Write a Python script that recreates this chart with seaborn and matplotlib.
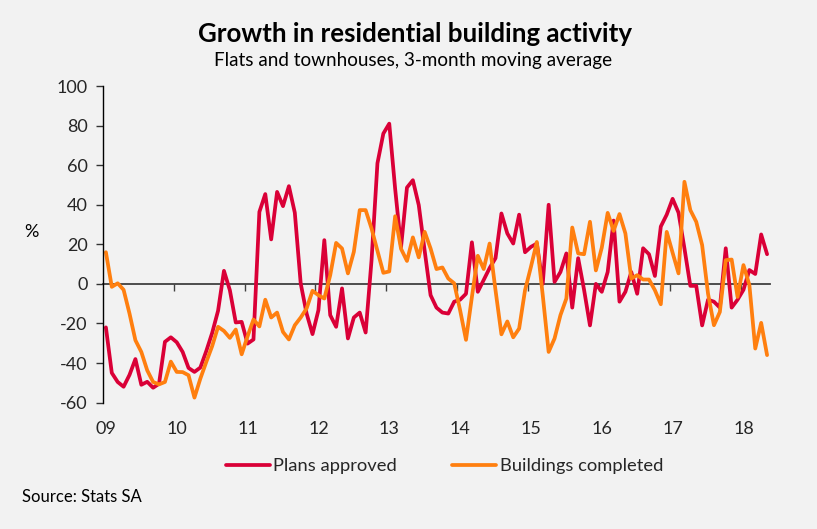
import matplotlib
matplotlib.use("Agg")
import matplotlib.pyplot as plt
import numpy as np
import pandas as pd
import seaborn as sns

# ---- data (monthly, Jan 2009 - May 2018, % growth, 3-month moving average) ----
year_labels = ["09", "10", "11", "12", "13", "14", "15", "16", "17", "18"]

plans_approved = [
    -22, -45, -49.6, -52, -46, -38, -51, -49.5, -52.5, -50.5, -29.3, -27,
    -29.5, -34.4, -42.5, -44.5, -42.3, -34, -24.8, -13.6, 6.6, -3.2, -19.5, -19.2,
    -30.2, -28.1, 36.4, 45.4, 22.5, 46.5, 39.3, 49.4, 36, 0.2, -15, -25.4,
    -13.3, 22.1, -15.8, -21.7, -2.3, -27.6, -17, -14.5, -24.6, 12, 61, 76,
    81, 48, 18.7, 48.7, 52.4, 39.8, 16.7, -5.7, -12, -14.5, -15, -9,
    -8, -5, 21, -4, 2, 8, 13, 35.6, 25.5, 20.4, 35, 16,
    18.7, 20.4, 0, 40, 1, 6, 15.4, -12, 13, -3, -21, 0,
    -4, 6, 32, -9, -4, 6, -5, 18, 15, 4, 29, 35,
    43, 36, 18, -1, -1, -21, -8, -9, -12, 18, -12, -8,
    -3, 7, 5, 25, 15,
]

buildings_completed = [
    16, -1.5, 0.3, -3, -15, -28.5, -34.4, -43.7, -49.6, -50.8, -49.6, -39.3,
    -44.5, -44.6, -46.2, -57.5, -47.9, -39.5, -31.5, -21.7, -23.8, -27.3, -23.1, -35.6,
    -26.5, -18, -21.5, -8, -17, -14.5, -24.3, -28.1, -20.9, -17, -12.4, -3.5,
    -5.7, -7.4, 4.4, 20.7, 17.9, 5.3, 16.2, 37.3, 37.3, 28, 16.7, 5.6,
    6.3, 34.2, 17.7, 11.6, 23.5, 13.4, 26.3, 17.9, 7.5, 8.3, 2.7, 0.3,
    -13.3, -28.3, -6.6, 14.2, 7.5, 20.4, -3.2, -25.5, -19, -27, -22.6, -3.2,
    8.6, 21.2, -5.7, -34.4, -27.6, -15.8, -7.4, 28.5, 15.4, 15, 31.4, 6.8,
    18.3, 35.9, 26.8, 35.3, 25.5, 2.7, 4.4, 2.2, 2.2, -3.2, -10.3, 26.3,
    15.7, 5.3, 51.6, 37.3, 31.4, 19.6, -5, -20.9, -14.2, 12, 12.3, -6.6,
    9.5, -0.5, -32.7, -19.7, -36,
]

series_names = ["Plans approved", "Buildings completed"]
y_ticks = [-60, -40, -20, 0, 20, 40, 60, 80, 100]

# ---- styling ----
BG = "#F2F2F2"
RED = "#DA0037"
ORANGE = "#FF7F0F"

sns.set_theme(style="white")
plt.rcParams["font.family"] = ["Lato", "DejaVu Sans"]

months = list(range(len(plans_approved)))
df = pd.DataFrame({
    "month": months + months,
    "value": plans_approved + buildings_completed,
    "series": [series_names[0]] * len(months) + [series_names[1]] * len(months),
})

fig = plt.figure(figsize=(8.17, 5.29), dpi=100, facecolor=BG)
ax = fig.add_axes([0.126, 0.239, 0.8165, 0.5983])
ax.set_facecolor(BG)

sns.lineplot(data=df, x="month", y="value", hue="series",
             palette=[RED, ORANGE], linewidth=2.7, ax=ax, legend=True)

ax.set_xlim(-0.5, 112.5)
ax.set_ylim(-60, 100)
ax.set_yticks(y_ticks)
ax.set_yticklabels([str(v) for v in y_ticks])
ax.set_xticks([12 * k for k in range(len(year_labels))])
ax.set_xticklabels(year_labels)
ax.set_xlabel("")
ax.set_ylabel("")

for s in ["top", "right", "bottom"]:
    ax.spines[s].set_visible(False)
ax.spines["left"].set_color("#000000")
ax.spines["left"].set_linewidth(1.0)
ax.tick_params(axis="y", direction="out", length=5, width=1, color="#333333",
               labelsize=13, pad=6, left=True)
ax.tick_params(axis="x", length=0, labelsize=13, pad=13, bottom=False)

# zero line with year ticks, via a secondary x-axis at y = 0
zero_frac = (0 - (-60)) / (100 - (-60))
sec = ax.secondary_xaxis(zero_frac)
sec.set_xticks([12 * k - 0.5 for k in range(1, len(year_labels))])
sec.set_xticklabels([])
sec.spines["bottom"].set_color("#404040")
sec.spines["bottom"].set_linewidth(1.3)
sec.tick_params(axis="x", direction="out", length=5, width=1, color="#404040")

handles, labels = ax.get_legend_handles_labels()
ax.legend(handles, labels, loc="center", bbox_to_anchor=(0.544, 0.119),
          bbox_transform=fig.transFigure, ncol=2, frameon=False, fontsize=13.2,
          handlelength=2.4, handletextpad=0.2, columnspacing=3.0)

fig.text(0.508, 0.936, "Growth in residential building activity",
         ha="center", va="center", fontsize=18.6, fontweight="bold", color="#000000")
fig.text(0.506, 0.886, "Flats and townhouses, 3-month moving average",
         ha="center", va="center", fontsize=13.6, color="#000000")
fig.text(0.039, 0.5614, "%", ha="center", va="center", fontsize=13, color="#000000")
fig.text(0.027, 0.0604, "Source: Stats SA", ha="left", va="center",
         fontsize=12, color="#000000")

fig.savefig("out.png", dpi=100, facecolor=BG)
